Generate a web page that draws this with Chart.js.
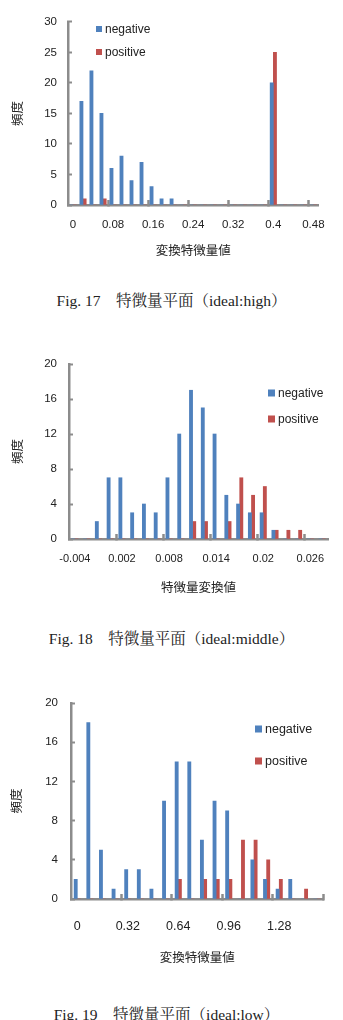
<!DOCTYPE html>
<html lang="ja">
<head>
<meta charset="utf-8">
<title>特徴量平面</title>
<script src="https://cdn.jsdelivr.net/npm/chart.js@4.4.1/dist/chart.umd.min.js"></script>
<style>
  html, body { margin: 0; padding: 0; background: #fff; }
  body { position: relative; width: 343px; height: 1020px; overflow: hidden; }
  canvas { position: absolute; left: 0; }
  .caption {
    position: absolute; left: 0; width: 343px; height: 20px; line-height: 20px;
    text-align: center; color: #222; white-space: nowrap;
    font: 15.5px 'Liberation Serif', 'Noto Serif CJK JP', 'Noto Sans CJK JP', serif;
  }
  .key {
    position: absolute; height: 16px; line-height: 16px; transform: translateY(-50%);
    color: #222; font-family: 'Liberation Sans', sans-serif; white-space: nowrap;
  }
  .key i { position: absolute; top: 50%; transform: translateY(-50%); }
</style>
</head>
<body>
<canvas id="fig17" width="343" height="265" style="top:0px"></canvas>
<div class="caption" style="top:288px">Fig. 17　特徴量平面（ideal:high）</div>

<canvas id="fig18" width="343" height="270" style="top:330px"></canvas>
<div class="caption" style="top:626px">Fig. 18　特徴量平面（ideal:middle）</div>

<canvas id="fig19" width="343" height="305" style="top:665px"></canvas>
<div class="caption" style="top:1002px;left:-5px">Fig. 19　特徴量平面（ideal:low）</div>

<script>
// ── data ──
const SERIES = ['negative', 'positive'];

// Fig. 17 (ideal:high)
const highBins = ['0', '0.02', '0.04', '0.06', '0.08', '0.1', '0.12', '0.14', '0.16', '0.18',
  '0.2', '0.22', '0.24', '0.26', '0.28', '0.3', '0.32', '0.34', '0.36', '0.38',
  '0.4', '0.42', '0.44', '0.46', '0.48'];
const highNegative = [0, 17, 22, 15, 6, 8, 4, 7, 3, 1, 1, 0, 0, 0, 0, 0, 0, 0, 0, 0, 20, 0, 0, 0, 0];
const highPositive = [0, 1, 0, 1, 0, 0, 0, 0, 0, 0, 0, 0, 0, 0, 0, 0, 0, 0, 0, 0, 25, 0, 0, 0, 0];

// Fig. 18 (ideal:middle)
const middleBins = ['-0.004', '-0.0025', '-0.001', '0.0005', '0.002', '0.0035', '0.005', '0.0065',
  '0.008', '0.0095', '0.011', '0.0125', '0.014', '0.0155', '0.017', '0.0185',
  '0.02', '0.0215', '0.023', '0.0245', '0.026', '0.0275'];
const middleNegative = [0, 0, 2, 7, 7, 3, 4, 3, 7, 12, 17, 15, 12, 5, 4, 3, 3, 1, 0, 0, 0, 0];
const middlePositive = [0, 0, 0, 0, 0, 0, 0, 0, 0, 0, 2, 2, 0, 2, 7, 5, 6, 1, 1, 1, 0, 0];

// Fig. 19 (ideal:low)
const lowBins = ['0', '0.08', '0.16', '0.24', '0.32', '0.4', '0.48', '0.56', '0.64', '0.72',
  '0.8', '0.88', '0.96', '1.04', '1.12', '1.2', '1.28', '1.36', '1.44', '1.52'];
const lowNegative = [2, 18, 5, 1, 3, 3, 1, 10, 14, 14, 6, 10, 9, 0, 4, 2, 1, 2, 0, 0];
const lowPositive = [0, 0, 0, 0, 0, 0, 0, 0, 2, 0, 2, 2, 2, 6, 6, 4, 2, 0, 1, 0];

const LABEL_EVERY = 4;

// ── styles ──
const BLUE = '#4f81bd';
const RED = '#c0504d';
const GRAY = '#8c8c8c';
const INK = '#222';
const SANS = "'Liberation Sans', Arial, sans-serif";
const CJK = "'Noto Sans CJK JP', sans-serif";

function histogram(id, o) {
  const canvas = document.getElementById(id);
  return new Chart(canvas, {
    type: 'bar',
    data: {
      labels: o.bins,
      datasets: [
        { label: SERIES[0], data: o.negative, backgroundColor: BLUE },
        { label: SERIES[1], data: o.positive, backgroundColor: RED },
      ],
    },
    options: {
      responsive: false,
      animation: false,
      devicePixelRatio: 1,
      layout: { padding: { top: o.top, right: o.right, left: 0, bottom: 0 } },
      datasets: { bar: { barThickness: 3.2 } },
      plugins: { legend: { display: false }, tooltip: { enabled: false } },
      scales: {
        x: {
          afterFit: s => { s.height = o.xHeight; },
          border: { color: GRAY, width: 2.5 },
          grid: {
            offset: true,
            drawOnChartArea: false,
            tickLength: -5,
            tickWidth: 2.5,
            // short inner marks every 4 bins, like the Excel major ticks
            color: ctx => {
              if (ctx.type === 'tick') return ctx.index > 0 && ctx.index % LABEL_EVERY === 0 ? GRAY : 'rgba(0,0,0,0)';
              return o.endMark ? GRAY : 'rgba(0,0,0,0)';
            },
          },
          ticks: {
            autoSkip: false,
            maxRotation: 0,
            padding: o.xPad,
            color: INK,
            font: { family: SANS, size: o.xFont },
            callback: (v, i) => (i % LABEL_EVERY === 0 ? o.bins[i] : ''),
          },
          title: {
            display: true,
            text: o.xTitle,
            color: INK,
            font: { family: CJK, size: 12.5 },
            padding: { top: 0, bottom: o.xTitlePad },
          },
        },
        y: {
          min: 0,
          max: o.yMax,
          afterFit: s => { s.width = o.left; },
          border: { color: GRAY, width: 2.5 },
          grid: { drawOnChartArea: false, tickLength: -4, tickWidth: 2, color: GRAY },
          ticks: { stepSize: o.yStep, padding: o.yPad, color: INK, font: { family: SANS, size: o.yFont } },
          title: {
            display: true,
            text: '頻度',
            color: INK,
            font: { family: CJK, size: 12.5 },
            padding: { top: o.yTitlePad, bottom: 0 },
          },
        },
      },
    },
  });
}

function legend(x, ys, size, fontSize) {
  [BLUE, RED].forEach((c, i) => {
    const el = document.createElement('div');
    el.className = 'key';
    el.style.left = x + 'px';
    el.style.top = ys[i] + 'px';
    el.style.fontSize = fontSize + 'px';
    el.style.paddingLeft = (size + 3) + 'px';
    el.innerHTML = `<i style="left:0;width:${size}px;height:${size}px;background:${c}"></i>${SERIES[i]}`;
    document.body.appendChild(el);
  });
}

histogram('fig17', {
  bins: highBins, negative: highNegative, positive: highPositive,
  xTitle: '変換特徴量値', yMax: 30, yStep: 5,
  top: 21, right: 20, left: 68, xHeight: 60,
  xPad: 18, yPad: 15, xFont: 11.5, yFont: 11.5,
  xTitlePad: 7.5, yTitlePad: 9.5, endMark: false,
});
legend(96, [29, 52], 6, 12);

histogram('fig18', {
  bins: middleBins, negative: middleNegative, positive: middlePositive,
  xTitle: '特徴量変換値', yMax: 20, yStep: 4,
  top: 34, right: 15, left: 69, xHeight: 61,
  xPad: 18.4, yPad: 16, xFont: 11, yFont: 11.5,
  xTitlePad: 5.5, yTitlePad: 9.5, endMark: false,
});
legend(268, [393, 419], 7, 12);

histogram('fig19', {
  bins: lowBins, negative: lowNegative, positive: lowPositive,
  xTitle: '変換特徴量値', yMax: 20, yStep: 4,
  top: 38, right: 16, left: 71, xHeight: 71,
  xPad: 25.5, yPad: 17, xFont: 12.5, yFont: 11.5,
  xTitlePad: 5.5, yTitlePad: 8.5, endMark: true,
});
legend(255, [729, 761], 7, 12.5);
</script>
</body>
</html>
